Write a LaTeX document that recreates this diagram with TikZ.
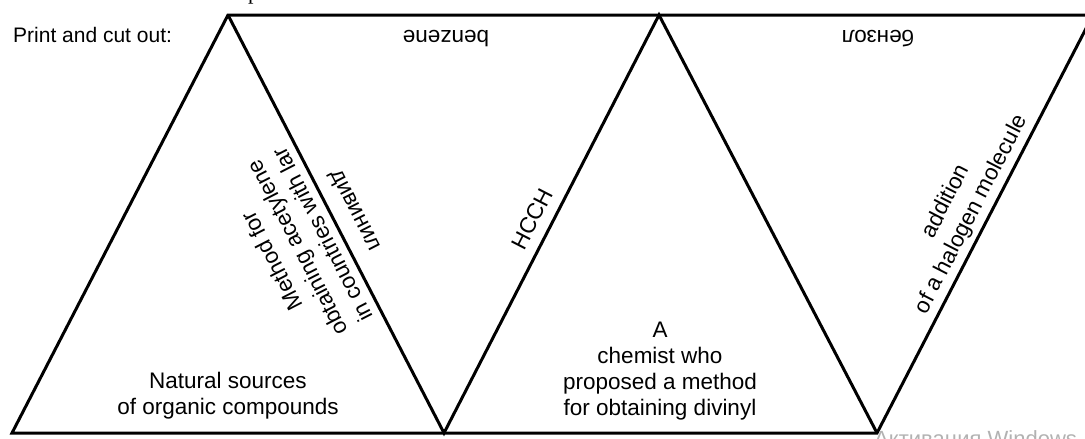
\documentclass[tikz,border=0pt]{standalone}
\usepackage{fontspec}
\setmainfont{Liberation Sans}
\newfontfamily\serifpart{Liberation Serif}
\begin{document}
\begin{tikzpicture}[x=1pt,y=-1pt,
  edge/.style={line width=3pt, line join=miter},
  lbl/.style={font=\fontsize{22.5}{26}\selectfont, align=center, inner sep=0pt},
  wide/.style={font=\fontsize{22.5}{28.5}\selectfont, align=center, inner sep=0pt},
  small/.style={font=\fontsize{21}{25}\selectfont, inner sep=0pt},
  ghost/.style={font=\fontsize{22}{26}\selectfont, inner sep=0pt, text=black!30}]
\useasboundingbox (0,0) rectangle (1085,439);
\clip (0,0) rectangle (1085,439);
% vertices
\coordinate (b1) at (12,433);
\coordinate (b2) at (444,433);
\coordinate (b3) at (877,433);
\coordinate (t1) at (228,15);
\coordinate (t2) at (659,15);
\coordinate (t3) at (1093,15);
% outline and zigzag
\draw[edge] (t3) -- (t1) -- (b1) -- (b3) -- cycle;
\draw[edge] (t1) -- (b2) -- (t2) -- (b3);
% texts
\node[small, anchor=west] (print) at (13,35) {Print and cut out:};
\node[inner sep=0pt, anchor=base west, font=\serifpart\fontsize{22}{26}\selectfont] (cutp) at (248,-1) {p};
\node[lbl] (natural) at (228,396) {Natural sources\\of organic compounds};
\node[lbl] (chemist) at (660,371) {A\\chemist who\\proposed a method\\for obtaining divinyl};
\node[lbl, rotate=180] (benzene) at (446,39) {benzene};
\node[lbl, rotate=180] (benzol) at (878,39) {бензол};
\node[lbl, rotate=62.8] (hcch) at (532,219) {HCCH};
\node[wide, rotate=62.8] (addition) at (959,208) {addition\\of a halogen molecule};
\node[wide, rotate=117.2] (method) at (297,248) {Method for\\obtaining acetylene\\in countries with lar};
\node[lbl, rotate=-62.8] (divinyl) at (354,211) {дивинил};
\node[ghost, anchor=north west] (wm) at (874,430) {Активация Windows};
\end{tikzpicture}
\end{document}
